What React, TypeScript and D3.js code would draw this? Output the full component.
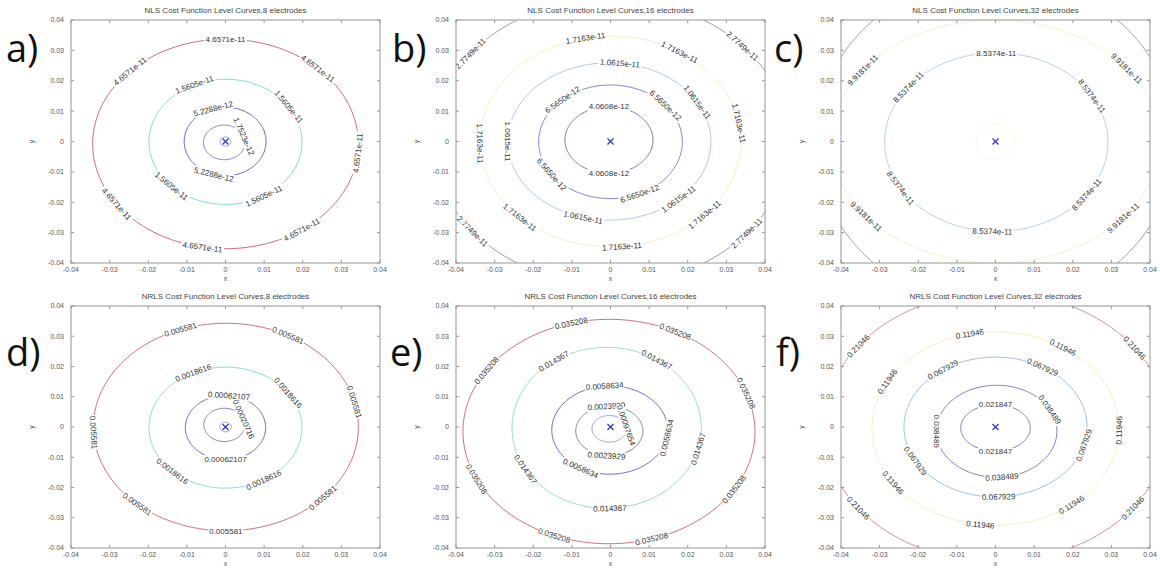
import React from "react";
import * as d3 from "d3";

// ---------- shared axis data ----------
const ticks = [-0.04, -0.03, -0.02, -0.01, 0, 0.01, 0.02, 0.03, 0.04];
const tickLabels = ["-0.04", "-0.03", "-0.02", "-0.01", "0", "0.01", "0.02", "0.03", "0.04"];
const titles = [
  "NLS Cost Function Level Curves,8 electrodes",
  "NLS Cost Function Level Curves,16 electrodes",
  "NLS Cost Function Level Curves,32 electrodes",
  "NRLS Cost Function Level Curves,8 electrodes",
  "NRLS Cost Function Level Curves,16 electrodes",
  "NRLS Cost Function Level Curves,32 electrodes",
];
const tags = ["a)", "b)", "c)", "d)", "e)", "f)"];

// ---------- panel a: NLS, 8 electrodes ----------
const aLevels = ["4.6571e-11", "1.5605e-11", "5.2288e-12", "1.7523e-12", ""];
const aRx = [0.0344, 0.0198, 0.0106, 0.0054, 0.0014];
const aRy = [0.0345, 0.0206, 0.0113, 0.0057, 0.0015];
const aCx = [0, 0, -0.0001, -0.0003, 0];
const aCy = [-0.0008, -0.0001, 0, -0.0003, 0];
const aLabelAt = [[90, 46, 136, -5, 215, 260, 305], [114, 34, 225, 300], [107, 254], [20], []];
const aColors = ["#cf6e78", "#80dcdc", "#6262d6", "#7878dc", "#9a9aea"];

// ---------- panel b: NLS, 16 electrodes ----------
const bLevels = ["2.7749e-11", "1.7163e-11", "1.0615e-11", "6.5650e-12", "4.0608e-12"];
const bRx = [0.046, 0.0338, 0.0263, 0.0186, 0.0114];
const bRy = [0.047, 0.0347, 0.0259, 0.0187, 0.011];
const bCx = [0, 0, -0.0003, 0, -0.0004];
const bCy = [0, 0, 0, -0.0001, 0.0005];
const bLabelAt = [[142, 42, 219, 320], [101, 58, 10, 181, 226, 275, 316], [84, 30, 180, 255, 313], [132, 40, 215, 294], [90, 270]];
const bColors = ["#a89c9c", "#f2f2c0", "#acc9ee", "#8484da", "#7474b6"];

// ---------- panel c: NLS, 32 electrodes ----------
const cLevels = ["", "9.9181e-11", "8.5374e-11", ""];
const cRx = [0.0465, 0.0425, 0.0289, 0.005];
const cRy = [0.0545, 0.04, 0.0294, 0.006];
const cCx = [0, 0, 0.0002, 0];
const cCy = [0, 0, -0.0002, 0];
const cLabelAt = [[], [144, 37, 218, 321], [90, 142, 31, 211, 268, 324], []];
const cColors = ["#a8a2a2", "#f4f4c8", "#b2d2f0", "#f8f8dc"];

// ---------- panel d: NRLS, 8 electrodes ----------
const dLevels = ["0.005581", "0.0018616", "0.00062107", "0.00020716", ""];
const dRx = [0.0343, 0.0198, 0.0104, 0.0053, 0.0015];
const dRy = [0.0343, 0.02, 0.0106, 0.0055, 0.0016];
const dCx = [0.0001, 0, 0, -0.0003, 0];
const dCy = [0, -0.0002, -0.0002, 0.0007, 0];
const dLabelAt = [[110, 62, 14, 183, 228, 270, 317], [115, 35, 226, 300], [85, 270], [20], []];
const dColors = ["#d2707c", "#88dcdc", "#6464d6", "#7676c8", "#9a9aea"];

// ---------- panel e: NRLS, 16 electrodes ----------
const eLevels = ["0.035208", "0.014367", "0.0058634", "0.0023929", "0.00097654"];
const eRx = [0.0378, 0.0245, 0.015, 0.0087, 0.0045];
const eRy = [0.0371, 0.0266, 0.0146, 0.0082, 0.0044];
const eCx = [-0.0004, -0.001, -0.0002, -0.0003, -0.0003];
const eCy = [-0.0015, -0.0003, -0.001, -0.0013, -0.0006];
const eLabelAt = [[105, 63, 20, 147, 205, 329, 248, 287], [124, 58, 345, 211, 272], [95, 350, 240], [95, 265], [15]];
const eColors = ["#d2707c", "#96e4be", "#6868da", "#80809e", "#9696e6"];

// ---------- panel f: NRLS, 32 electrodes ----------
const fLevels = ["0.21046", "0.11946", "0.067929", "0.038489", "0.021847"];
const fRx = [0.0445, 0.032, 0.0237, 0.0156, 0.009];
const fRy = [0.0445, 0.032, 0.0231, 0.0152, 0.0077];
const fCx = [0, 0, 0, 0.0003, 0];
const fCy = [0, -0.0005, 0, -0.0014, -0.0003];
const fLabelAt = [[143, 36, 217, 323], [102, 57, 151, 359, 214, 263, 308], [125, 59, 209, 345, 272], [180, 28, 275], [90, 270]];
const fColors = ["#d69298", "#f2f2c0", "#98c2ec", "#8080c8", "#7a7aba"];

const panels = [
  { levels: aLevels, rx: aRx, ry: aRy, cx: aCx, cy: aCy, labelAt: aLabelAt, colors: aColors },
  { levels: bLevels, rx: bRx, ry: bRy, cx: bCx, cy: bCy, labelAt: bLabelAt, colors: bColors },
  { levels: cLevels, rx: cRx, ry: cRy, cx: cCx, cy: cCy, labelAt: cLabelAt, colors: cColors },
  { levels: dLevels, rx: dRx, ry: dRy, cx: dCx, cy: dCy, labelAt: dLabelAt, colors: dColors },
  { levels: eLevels, rx: eRx, ry: eRy, cx: eCx, cy: eCy, labelAt: eLabelAt, colors: eColors },
  { levels: fLevels, rx: fRx, ry: fRy, cx: fCx, cy: fCy, labelAt: fLabelAt, colors: fColors },
];

// ---------- layout ----------
const W = 1160;
const H = 579;
const colX = [71, 456, 841];
const rowY = [[20, 263], [306, 548]];
const plotW = 309;
const tagPos = [[6, 62], [392, 62], [774, 62], [6, 366], [390, 366], [776, 366]];
const smallFont = "'Liberation Sans', Arial, Helvetica, sans-serif";

function Panel({ idx }: { idx: number }) {
  const p = panels[idx];
  const col = idx % 3;
  const row = Math.floor(idx / 3);
  const x0 = colX[col];
  const x1 = x0 + plotW;
  const [y0, y1] = rowY[row];
  const X = d3.scaleLinear().domain([-0.04, 0.04]).range([x0, x1]);
  const Y = d3.scaleLinear().domain([-0.04, 0.04]).range([y1, y0]);
  const clipId = `clip-${idx}`;
  const tSteps = d3.range(0, 360, 2).map((d) => (d * Math.PI) / 180);
  const line = d3.line<number[]>().x((d) => d[0]).y((d) => d[1]).curve(d3.curveLinearClosed);

  const labels: any[] = [];
  p.levels.forEach((lev, i) => {
    if (!lev) return;
    p.labelAt[i].forEach((deg, j) => {
      const t = (deg * Math.PI) / 180;
      const px = X(p.cx[i] + p.rx[i] * Math.cos(t));
      const py = Y(p.cy[i] + p.ry[i] * Math.sin(t));
      const dx = X(p.rx[i] * -Math.sin(t)) - X(0);
      const dy = Y(p.ry[i] * Math.cos(t)) - Y(0);
      let ang = (Math.atan2(dy, dx) * 180) / Math.PI;
      if (ang > 90) ang -= 180;
      if (ang <= -90) ang += 180;
      const fs = 8;
      const w = lev.length * fs * 0.5 + 3;
      labels.push(
        <g key={`l-${i}-${j}`} transform={`translate(${px},${py}) rotate(${ang})`}>
          <rect x={-w / 2} y={-fs / 2 - 0.5} width={w} height={fs + 1} fill="#fff" />
          <text
            x={0}
            y={0}
            dy="0.35em"
            textAnchor="middle"
            fontSize={fs}
            fontFamily={smallFont}
            fill="#333"
          >
            {lev}
          </text>
        </g>
      );
    });
  });

  return (
    <g>
      <defs>
        <clipPath id={clipId}>
          <rect x={x0} y={y0} width={x1 - x0} height={y1 - y0} />
        </clipPath>
      </defs>
      <rect x={x0} y={y0} width={x1 - x0} height={y1 - y0} fill="#fff" />
      <g clipPath={`url(#${clipId})`}>
        {p.rx.map((rx, i) => (
          <path
            key={`c-${i}`}
            d={line(tSteps.map((t) => [X(p.cx[i] + rx * Math.cos(t)), Y(p.cy[i] + p.ry[i] * Math.sin(t))])) || ""}
            fill="none"
            stroke={p.colors[i]}
            strokeWidth={1}
          />
        ))}
        {labels}
      </g>
      {/* centre marker */}
      <g stroke="#3434d6" strokeWidth={1.2}>
        <line x1={X(0) - 3} y1={Y(0) - 3} x2={X(0) + 3} y2={Y(0) + 3} />
        <line x1={X(0) - 3} y1={Y(0) + 3} x2={X(0) + 3} y2={Y(0) - 3} />
      </g>
      {/* box */}
      <rect x={x0} y={y0} width={x1 - x0} height={y1 - y0} fill="none" stroke="#969696" strokeWidth={1} />
      {ticks.map((t, k) => (
        <g key={`t-${k}`} stroke="#969696" strokeWidth={1}>
          <line x1={X(t)} y1={y1} x2={X(t)} y2={y1 - 3} />
          <line x1={X(t)} y1={y0} x2={X(t)} y2={y0 + 3} />
          <line x1={x0} y1={Y(t)} x2={x0 + 3} y2={Y(t)} />
          <line x1={x1} y1={Y(t)} x2={x1 - 3} y2={Y(t)} />
        </g>
      ))}
      {ticks.map((t, k) => (
        <text
          key={`xl-${k}`}
          x={X(t)}
          y={y1 + 9}
          textAnchor="middle"
          fontSize={7}
          fontFamily={smallFont}
          fill="#555"
        >
          {tickLabels[k]}
        </text>
      ))}
      {ticks.map((t, k) => (
        <text
          key={`yl-${k}`}
          x={x0 - 7}
          y={Y(t)}
          dy="0.35em"
          textAnchor="end"
          fontSize={7}
          fontFamily={smallFont}
          fill="#555"
        >
          {tickLabels[k]}
        </text>
      ))}
      <text x={(x0 + x1) / 2} y={y1 + 18} textAnchor="middle" fontSize={7} fontFamily={smallFont} fill="#555">
        x
      </text>
      <text
        transform={`translate(${x0 - 37},${(y0 + y1) / 2}) rotate(-90)`}
        textAnchor="middle"
        fontSize={7}
        fontFamily={smallFont}
        fill="#555"
      >
        y
      </text>
      <text x={(x0 + x1) / 2} y={y0 - 7} textAnchor="middle" fontSize={8} fontFamily={smallFont} fill="#444">
        {titles[idx]}
      </text>
      <text x={tagPos[idx][0]} y={tagPos[idx][1]} fontSize={38} fontFamily="'Open Sans', sans-serif" fill="#111">
        {tags[idx]}
      </text>
    </g>
  );
}

export default function App() {
  return (
    <svg
      width={W}
      height={H}
      viewBox={`0 0 ${W} ${H}`}
      style={{ position: "absolute", left: 0, top: 0, background: "#fff" }}
    >
      <rect x={0} y={0} width={W} height={H} fill="#fff" />
      {panels.map((_, i) => (
        <Panel key={i} idx={i} />
      ))}
    </svg>
  );
}
